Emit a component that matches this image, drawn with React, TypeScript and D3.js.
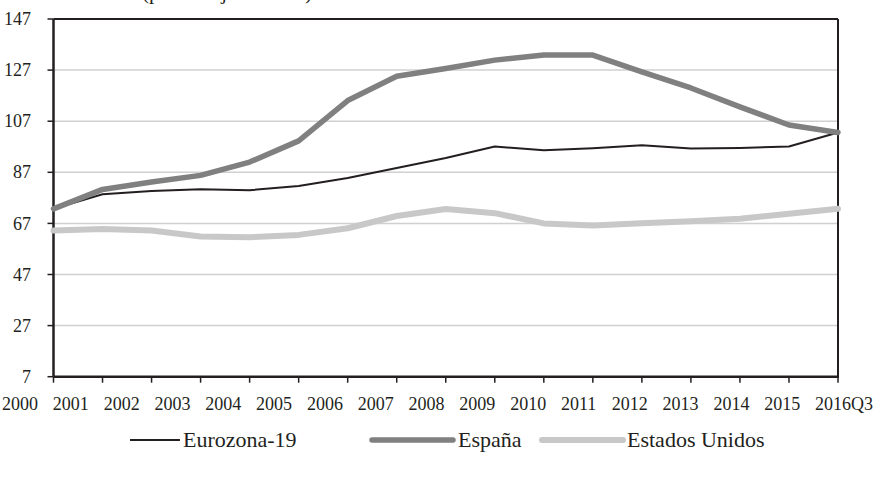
import React from "react";
import * as d3 from "d3";

const categories = ["2000","2001","2002","2003","2004","2005","2006","2007","2008","2009","2010","2011","2012","2013","2014","2015","2016Q3"];
const eurozona = [72.7, 78.4, 79.7, 80.4, 80.0, 81.6, 84.8, 88.7, 92.6, 97.1, 95.6, 96.4, 97.6, 96.3, 96.5, 97.1, 102.6];
const espana = [72.7, 80.3, 83.2, 85.8, 91.0, 99.3, 115.1, 124.6, 127.6, 130.9, 132.9, 132.9, 126.3, 120.0, 112.6, 105.5, 102.6];
const estadosUnidos = [64.2, 64.8, 64.2, 61.9, 61.6, 62.5, 65.1, 69.9, 72.6, 71.0, 67.0, 66.2, 67.1, 67.8, 68.8, 70.8, 72.7];
const yTicks = [7, 27, 47, 67, 87, 107, 127, 147];

const seriesNames = ["Eurozona-19", "España", "Estados Unidos"];

const FONT = "'Liberation Serif', 'Times New Roman', serif";

export default function App() {
  const W = 878, H = 478;
  const left = 53.5, right = 838, top = 19, bottom = 376.7;
  const x = d3.scalePoint<string>().domain(categories).range([left, right]);
  const labelX = d3.scalePoint<string>().domain(categories).range([2, 815]);
  const y = d3.scaleLinear().domain([7, 147]).range([bottom, top]);
  const line = d3.line<number>()
    .x((_, i) => x(categories[i]) as number)
    .y((d) => y(d));

  const series = [
    { name: seriesNames[2], values: estadosUnidos, color: "#c8c8c8", width: 6 },
    { name: seriesNames[0], values: eurozona, color: "#231f20", width: 2 },
    { name: seriesNames[1], values: espana, color: "#808080", width: 5.5 },
  ];

  const legendY = 440;
  const legend = [
    { name: seriesNames[0], color: "#231f20", width: 2, x1: 130, x2: 180, tx: 183 },
    { name: seriesNames[1], color: "#808080", width: 5.5, x1: 372, x2: 453, tx: 458 },
    { name: seriesNames[2], color: "#c8c8c8", width: 6, x1: 542, x2: 623, tx: 627 },
  ];

  return (
    <svg width={W} height={H} style={{ position: "absolute", left: 0, top: 0, background: "#fff" }} fontFamily={FONT}>
      <rect x={0} y={0} width={W} height={H} fill="#fff" />
      <text x={142} y={-1.5} fontSize={21} fill="#231f20">(porcentaje del PIB)</text>
      {/* gridlines */}
      {yTicks.filter((t) => t !== 7 && t !== 147).map((t) => (
        <line key={t} x1={left} x2={right} y1={y(t)} y2={y(t)} stroke="#d0d0d0" strokeWidth={1.5} />
      ))}
      {/* frame */}
      <line x1={left} x2={right} y1={top} y2={top} stroke="#231f20" strokeWidth={2} />
      <line x1={right} x2={right} y1={top} y2={bottom} stroke="#231f20" strokeWidth={2} />
      <line x1={left} x2={left} y1={top} y2={bottom} stroke="#231f20" strokeWidth={2.5} />
      <line x1={left} x2={right + 1} y1={bottom} y2={bottom} stroke="#231f20" strokeWidth={2.5} />
      {/* y ticks */}
      {yTicks.map((t) => (
        <g key={t}>
          <line x1={left - 6} x2={left} y1={y(t)} y2={y(t)} stroke="#231f20" strokeWidth={1.5} />
          <text x={31} y={y(t)} dy="0.34em" textAnchor="end" fontSize={18} fill="#231f20">{t}</text>
        </g>
      ))}
      {/* x ticks */}
      {categories.map((c) => (
        <g key={c}>
          <line x1={x(c)} x2={x(c)} y1={bottom} y2={bottom + 6} stroke="#231f20" strokeWidth={1.5} />
          <text x={labelX(c)} y={410} textAnchor="start" fontSize={18} fill="#231f20">{c}</text>
        </g>
      ))}
      {/* series */}
      {series.map((s) => (
        <path key={s.name} d={line(s.values) || ""} fill="none" stroke={s.color} strokeWidth={s.width}
          strokeLinejoin="round" strokeLinecap="round" />
      ))}
      {/* legend */}
      {legend.map((l) => (
        <g key={l.name}>
          <line x1={l.x1} x2={l.x2} y1={legendY} y2={legendY} stroke={l.color} strokeWidth={l.width} strokeLinecap={l.width > 3 ? "round" : "butt"} />
          <text x={l.tx} y={legendY} dy="0.33em" fontSize={22} fill="#231f20">{l.name}</text>
        </g>
      ))}
    </svg>
  );
}
